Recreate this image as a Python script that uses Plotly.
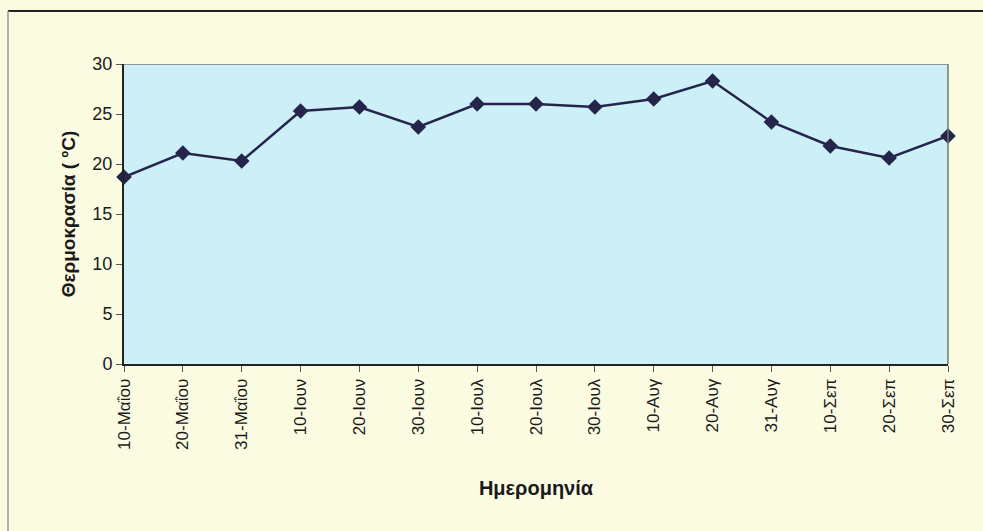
import plotly.graph_objects as go

dates = ["10-Μαΐου", "20-Μαΐου", "31-Μαΐου", "10-Ιουν", "20-Ιουν", "30-Ιουν",
         "10-Ιουλ", "20-Ιουλ", "30-Ιουλ", "10-Αυγ", "20-Αυγ", "31-Αυγ",
         "10-Σεπ", "20-Σεπ", "30-Σεπ"]
temps = [18.7, 21.1, 20.3, 25.3, 25.7, 23.7, 26.0, 26.0, 25.7, 26.5, 28.3, 24.2,
         21.8, 20.6, 22.8]
y_ticks = [0, 5, 10, 15, 20, 25, 30]

fig = go.Figure()
fig.add_trace(go.Scatter(
    x=list(range(len(dates))), y=temps, mode="lines+markers",
    line=dict(color="#25254c", width=2.5),
    marker=dict(symbol="diamond", size=12, color="#25254c"),
    cliponaxis=False,
    showlegend=False,
))

W, H = 983, 531
L, R, T, B = 124, 35, 64, 167

fig.update_layout(
    width=W, height=H,
    paper_bgcolor="#fbfbe2",
    plot_bgcolor="#cdeff8",
    margin=dict(l=L, r=R, t=T, b=B),
    font=dict(family="Liberation Sans, Arial, sans-serif", color="#1a1a1a"),
    xaxis=dict(
        range=[0, len(dates) - 1],
        tickmode="array", tickvals=list(range(len(dates))), ticktext=dates,
        tickangle=-90, tickfont=dict(size=17),
        ticks="outside", ticklen=6, tickcolor="#555",
        showline=True, linecolor="#222", linewidth=2, mirror=False,
        showgrid=False, zeroline=False,
        title=dict(text="<b>Ημερομηνία</b>", font=dict(size=20), standoff=32),
    ),
    yaxis=dict(
        range=[0, 30], tickvals=y_ticks,
        tickfont=dict(size=18),
        ticks="outside", ticklen=6, tickcolor="#555",
        showline=True, linecolor="#222", linewidth=2,
        showgrid=False, zeroline=False,
        title=dict(text="<b>Θερμοκρασία ( ºC)</b>", font=dict(size=19), standoff=12),
    ),
    shapes=[
        dict(type="line", xref="paper", yref="y", x0=0, x1=1, y0=30, y1=30,
             line=dict(color="#777", width=1.5)),
        dict(type="line", xref="paper", yref="paper", x0=1, x1=1, y0=0, y1=1,
             line=dict(color="#777", width=1.5)),
    ],
)

pw, ph = W - L - R, H - T - B
fig.add_shape(type="line", xref="paper", yref="paper",
              x0=(8 - L) / pw, x1=(W - L) / pw,
              y0=(H - B - 11) / ph, y1=(H - B - 11) / ph,
              line=dict(color="#222", width=2))
fig.add_shape(type="line", xref="paper", yref="paper",
              x0=(8 - L) / pw, x1=(8 - L) / pw,
              y0=(H - B - 11) / ph, y1=-B / ph,
              line=dict(color="#999", width=1.5))

fig.write_html("out.html", config={"displayModeBar": False},
               post_script="document.body.style.margin='0';document.body.style.overflow='hidden';")
